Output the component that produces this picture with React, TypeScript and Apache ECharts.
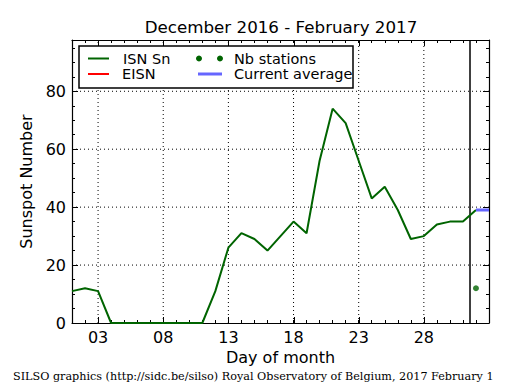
import React, { useEffect, useRef } from "react";
import * as echarts from "echarts";

const days = [1, 2, 3, 4, 5, 6, 7, 8, 9, 10, 11, 12, 13, 14, 15, 16, 17, 18, 19, 20, 21, 22, 23, 24, 25, 26, 27, 28, 29, 30, 31, 32];
const isnValues = [11, 12, 11, 0, 0, 0, 0, 0, 0, 0, 0, 11, 26, 31, 29, 25, 30, 35, 31, 56, 74, 69, 56, 43, 47, 39, 29, 30, 34, 35, 35, 39];
const nbStations = [[32, 12]];
const currentAverage = [[32, 39], [33, 39]];
const monthBoundary = 31.5;
const xTickValues = [3, 8, 13, 18, 23, 28];
const yTickValues = [0, 20, 40, 60, 80];
const yGridValues = [20, 40, 60, 80];
const X_MIN = 1;
const X_MAX = 33;
const Y_MIN = 0;
const Y_MAX = 97.7;

const FONT = "DejaVu Sans";
const GREEN = "#006400";
const MAJOR_LEN = 6;

export default function App() {
  const ref = useRef<HTMLDivElement>(null);
  useEffect(() => {
    if (!ref.current) return;
    const chart = echarts.init(ref.current, undefined, { renderer: "svg" });
    const isnData = days.map((d, i) => [d, isnValues[i]]);
    const tickCommon = { show: true, inside: true, length: 3, lineStyle: { color: "#000", width: 1 } };
    const gridStyle = { color: "#000", width: 1, type: [1, 3] };
    const xGridSeries = xTickValues.map((v) => ({
      type: "line", data: [[v, Y_MIN], [v, Y_MAX]], symbol: "none", silent: true, z: 1,
      lineStyle: gridStyle,
    }));
    const yGridSeries = yGridValues.map((v) => ({
      type: "line", data: [[X_MIN, v], [X_MAX, v]], symbol: "none", silent: true, z: 1,
      lineStyle: gridStyle,
    }));
    const tickStyle = { stroke: "#000", lineWidth: 1 };
    const xMajorTicks = {
      type: "custom", silent: true, z: 3, clip: false,
      data: xTickValues.map((v) => [v, Y_MIN]),
      renderItem: (params: any, api: any) => {
        const x = Math.round(api.coord([api.value(0), Y_MIN])[0]) + 0.5;
        const cs = params.coordSys;
        const top = cs.y;
        const bottom = cs.y + cs.height;
        return {
          type: "group",
          children: [
            { type: "line", shape: { x1: x, y1: bottom, x2: x, y2: bottom - MAJOR_LEN }, style: tickStyle },
            { type: "line", shape: { x1: x, y1: top, x2: x, y2: top + MAJOR_LEN }, style: tickStyle },
          ],
        };
      },
    };
    const yMajorTicks = {
      type: "custom", silent: true, z: 3, clip: false,
      data: yTickValues.map((v) => [X_MIN, v]),
      renderItem: (params: any, api: any) => {
        const y = Math.round(api.coord([X_MIN, api.value(1)])[1]) + 0.5;
        const cs = params.coordSys;
        const left = cs.x;
        const right = cs.x + cs.width;
        return {
          type: "group",
          children: [
            { type: "line", shape: { x1: left, y1: y, x2: left + MAJOR_LEN, y2: y }, style: tickStyle },
            { type: "line", shape: { x1: right, y1: y, x2: right - MAJOR_LEN, y2: y }, style: tickStyle },
          ],
        };
      },
    };
    const option: any = {
      animation: false,
      backgroundColor: "#fff",
      grid: { left: 72, top: 40, right: 26, bottom: 67, show: false },
      xAxis: [
        {
          type: "value", min: X_MIN, max: X_MAX, interval: 1, position: "bottom",
          axisLine: { show: true, onZero: false, lineStyle: { color: "#000", width: 1.2 } },
          axisTick: tickCommon,
          axisLabel: {
            customValues: xTickValues,
            formatter: (v: number) => (v < 10 ? "0" + v : String(v)),
            fontSize: 16, color: "#000", fontFamily: FONT, margin: 6,
          },
          splitLine: { show: false },
          name: "Day of month", nameLocation: "middle", nameGap: 26,
          nameTextStyle: { fontSize: 16, color: "#000", fontFamily: FONT },
        },
        {
          type: "value", min: X_MIN, max: X_MAX, interval: 1, position: "top",
          axisLine: { show: true, onZero: false, lineStyle: { color: "#000", width: 1.2 } },
          axisTick: tickCommon,
          axisLabel: { show: false },
          splitLine: { show: false },
        },
      ],
      yAxis: [
        {
          type: "value", min: Y_MIN, max: Y_MAX, interval: 5, position: "left",
          axisLine: { show: true, onZero: false, lineStyle: { color: "#000", width: 1.2 } },
          axisTick: tickCommon,
          axisLabel: {
            customValues: yTickValues,
            fontSize: 16, color: "#000", fontFamily: FONT, margin: 6,
          },
          splitLine: { show: false },
          name: "Sunspot Number", nameLocation: "middle", nameGap: 32,
          nameTextStyle: { fontSize: 16, color: "#000", fontFamily: FONT },
        },
        {
          type: "value", min: Y_MIN, max: Y_MAX, interval: 5, position: "right",
          axisLine: { show: true, onZero: false, lineStyle: { color: "#000", width: 1.2 } },
          axisTick: tickCommon,
          axisLabel: { show: false },
          splitLine: { show: false },
        },
      ],
      series: [
        ...xGridSeries,
        ...yGridSeries,
        xMajorTicks,
        yMajorTicks,
        {
          name: "ISN Sn", type: "line", data: isnData, showSymbol: false, symbol: "none",
          lineStyle: { color: GREEN, width: 2 }, itemStyle: { color: GREEN }, z: 5,
        },
        {
          name: "boundary", type: "line", data: [], symbol: "none",
          markLine: {
            silent: true, symbol: "none", label: { show: false }, animation: false,
            lineStyle: { color: "#000", width: 1.5, type: "solid" },
            data: [{ xAxis: monthBoundary }],
          },
        },
        {
          name: "Nb stations", type: "scatter", data: nbStations, symbolSize: 6,
          itemStyle: { color: GREEN }, z: 6,
        },
        {
          name: "Current average", type: "line", data: currentAverage, symbol: "none",
          lineStyle: { color: "#6666ff", width: 3 }, z: 6,
        },
      ],
      graphic: [
        {
          type: "text", x: 281, y: 27, z: 100,
          style: { text: "December 2016 - February 2017", fontSize: 16.7, fontFamily: FONT, fill: "#000", textAlign: "center", textVerticalAlign: "middle" },
        },
        {
          type: "text", x: 13, y: 376, z: 100,
          style: { text: "SILSO graphics (http://sidc.be/silso) Royal Observatory of Belgium, 2017 February 1", fontSize: 11.2, fontFamily: "DejaVu Serif", fill: "#000", textAlign: "left", textVerticalAlign: "middle" },
        },
        {
          type: "group", z: 100,
          children: [
            { type: "rect", shape: { x: 79, y: 46, width: 274, height: 42 }, style: { fill: "#fff", stroke: "#000", lineWidth: 1.5 }, z: 100 },
            { type: "line", shape: { x1: 88, y1: 58.5, x2: 109, y2: 58.5 }, style: { stroke: GREEN, lineWidth: 2 }, z: 101 },
            { type: "text", x: 123, y: 58.5, style: { text: "ISN Sn", fontSize: 14.5, fontFamily: FONT, fill: "#000", textVerticalAlign: "middle" }, z: 101 },
            { type: "line", shape: { x1: 88, y1: 74, x2: 109, y2: 74 }, style: { stroke: "#ff0000", lineWidth: 2 }, z: 101 },
            { type: "text", x: 122, y: 74, style: { text: "EISN", fontSize: 14.5, fontFamily: FONT, fill: "#000", textVerticalAlign: "middle" }, z: 101 },
            { type: "circle", shape: { cx: 199, cy: 58.5, r: 3 }, style: { fill: GREEN }, z: 101 },
            { type: "circle", shape: { cx: 220, cy: 58.5, r: 3 }, style: { fill: GREEN }, z: 101 },
            { type: "text", x: 234, y: 58.5, style: { text: "Nb stations", fontSize: 14.5, fontFamily: FONT, fill: "#000", textVerticalAlign: "middle" }, z: 101 },
            { type: "line", shape: { x1: 198, y1: 74, x2: 222, y2: 74 }, style: { stroke: "#6666ff", lineWidth: 3 }, z: 101 },
            { type: "text", x: 234, y: 74, style: { text: "Current average", fontSize: 14.5, fontFamily: FONT, fill: "#000", textVerticalAlign: "middle" }, z: 101 },
          ],
        },
      ],
    };
    chart.setOption(option);
    return () => chart.dispose();
  }, []);
  return <div ref={ref} style={{ position: "fixed", left: 0, top: 0, width: 515, height: 390 }} />;
}
